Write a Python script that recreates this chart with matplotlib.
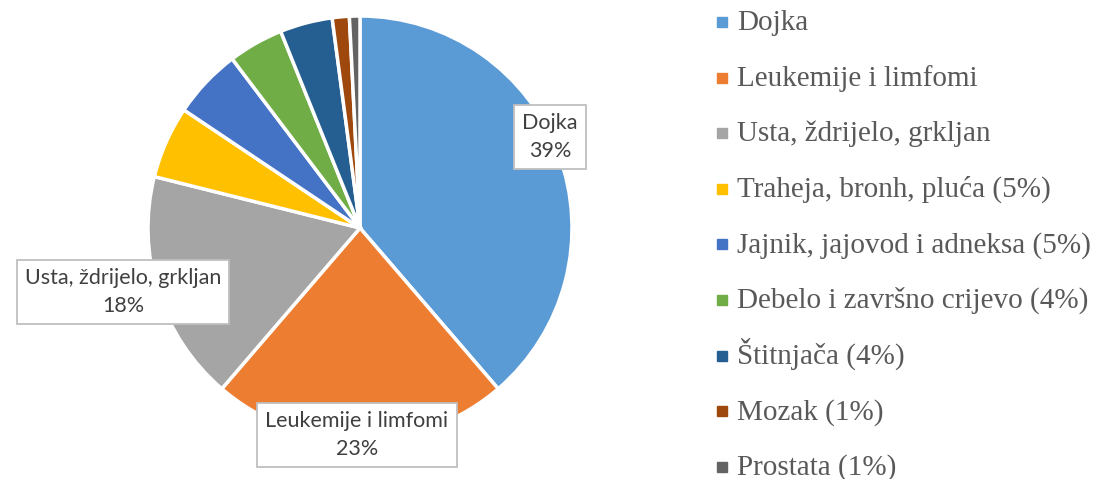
import matplotlib.pyplot as plt

names = ['Dojka', 'Leukemije i limfomi', 'Usta, ždrijelo, grkljan',
         'Traheja, bronh, pluća', 'Jajnik, jajovod i adneksa',
         'Debelo i završno crijevo', 'Štitnjača', 'Mozak', 'Prostata']
shares = [38.7, 22.6, 17.6, 5.5, 5.3, 4.2, 4.0, 1.3, 0.8]
legend_labels = ['Dojka', 'Leukemije i limfomi', 'Usta, ždrijelo, grkljan',
                 'Traheja, bronh, pluća (5%)', 'Jajnik, jajovod i adneksa (5%)',
                 'Debelo i završno crijevo (4%)', 'Štitnjača (4%)',
                 'Mozak (1%)', 'Prostata (1%)']
colors = ['#5B9BD5', '#ED7D31', '#A5A5A5', '#FFC000', '#4472C4',
          '#70AD47', '#255E91', '#9E480E', '#636363']

fig = plt.figure(figsize=(10.96, 4.79), dpi=100)
ax = fig.add_axes([0, 0, 1, 1])

W, H = 1096, 479
cx, cy, R = 360, H - 228, 212
wedges, _ = ax.pie(shares, colors=colors, startangle=90, counterclock=False,
                   center=(cx, cy), radius=R,
                   wedgeprops=dict(edgecolor='white', linewidth=2.5))
ax.set_xlim(0, W)
ax.set_ylim(0, H)
ax.set_aspect('equal')
ax.axis('off')

# data labels for the three biggest slices (pixel positions of the boxes)
label_pos = [(550, 137), (357, 435), (123, 292)]
for i, (px, py) in enumerate(label_pos):
    pct = round(shares[i])
    ax.text(px, H - py, f'{names[i]}\n{pct}%', ha='center', va='center',
            fontsize=15.5, family='Lato', color='#404040', linespacing=1.5,
            bbox=dict(boxstyle='square,pad=0.38', fc='white', ec='#BFBFBF', lw=1.3))

# legend drawn by hand so the rows stay evenly spaced
for i, (lab, c) in enumerate(zip(legend_labels, colors)):
    yc = H - (22 + i * 55.6)
    ax.plot([722], [yc], marker='s', markersize=6.5, color=c, linestyle='none')
    ax.text(737, yc - 8, lab, ha='left', va='baseline', fontsize=21,
            family='Liberation Serif', color='#595959')

fig.savefig('out.png', dpi=100)
